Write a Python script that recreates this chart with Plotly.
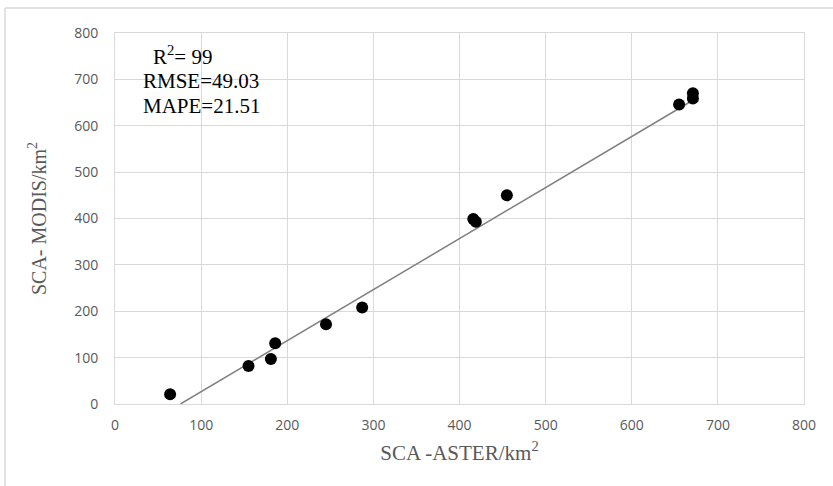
import plotly.graph_objects as go

# Data
aster_km2 = [64, 155, 181, 186, 245, 287, 416, 419, 455, 655, 671, 671]
modis_km2 = [21, 82, 97, 131, 172, 208, 399, 393, 450, 646, 670, 659]

# Trendline end points (clipped at y = 0)
trend_x = [76, 671]
trend_y = [0, 655]

x_ticks = [0, 100, 200, 300, 400, 500, 600, 700, 800]
y_ticks = [0, 100, 200, 300, 400, 500, 600, 700, 800]

stats_lines = ["R<sup>2</sup>= 99", "RMSE=49.03", "MAPE=21.51"]

GRID = "#d9d9d9"
TICKC = "#595959"
SERIF = "Liberation Serif, Times New Roman, serif"

fig = go.Figure()
fig.add_trace(go.Scatter(
    x=trend_x, y=trend_y, mode="lines",
    line=dict(color="#808080", width=1.5),
    showlegend=False, hoverinfo="skip",
))
fig.add_trace(go.Scatter(
    x=aster_km2, y=modis_km2, mode="markers",
    marker=dict(color="black", size=12),
    showlegend=False,
))

axis_common = dict(
    range=[0, 800], showgrid=True, gridcolor=GRID, gridwidth=1,
    showline=True, linecolor=GRID, linewidth=1, mirror=True,
    zeroline=False, ticks="",
    tickfont=dict(family="Open Sans, sans-serif", size=14, color=TICKC),
    fixedrange=True,
)

fig.update_xaxes(
    **axis_common, tickvals=x_ticks, ticktext=[str(v) for v in x_ticks],
    ticklabelstandoff=8,
    title=dict(text="SCA -ASTER/km<sup>2</sup>",
               font=dict(family=SERIF, size=21, color=TICKC), standoff=12),
)
fig.update_yaxes(
    **axis_common, tickvals=y_ticks, ticktext=[str(v) for v in y_ticks],
    ticklabelstandoff=13,
    title=dict(text="SCA- MODIS/km<sup>2</sup>",
               font=dict(family=SERIF, size=20, color=TICKC), standoff=22),
)

# Stats annotations
ann_pos = [(36, 56), (26, 81), (26, 106)]  # (x pixel offset from plot left, y pixel)
for txt, (dx, py) in zip(stats_lines, ann_pos):
    fig.add_annotation(
        xref="paper", yref="paper",
        x=(dx) / 689.0, y=(404 - py) / 371.0,
        xanchor="left", yanchor="middle", showarrow=False,
        text=txt, font=dict(family=SERIF, size=21, color="black"),
        align="left",
    )

# Outer chart frame (left and top edges)
fig.add_shape(type="line", xref="paper", yref="paper",
              x0=(5 - 115) / 689.0, x1=(5 - 115) / 689.0,
              y0=(404 - 8) / 371.0, y1=(404 - 495) / 371.0,
              line=dict(color=GRID, width=1.5))
fig.add_shape(type="line", xref="paper", yref="paper",
              x0=(5 - 115) / 689.0, x1=(840 - 115) / 689.0,
              y0=(404 - 8) / 371.0, y1=(404 - 8) / 371.0,
              line=dict(color=GRID, width=1.5))

fig.update_layout(
    width=833, height=486,
    margin=dict(l=115, r=29, t=33, b=82),
    paper_bgcolor="white", plot_bgcolor="white",
)

fig.write_html("out.html")
